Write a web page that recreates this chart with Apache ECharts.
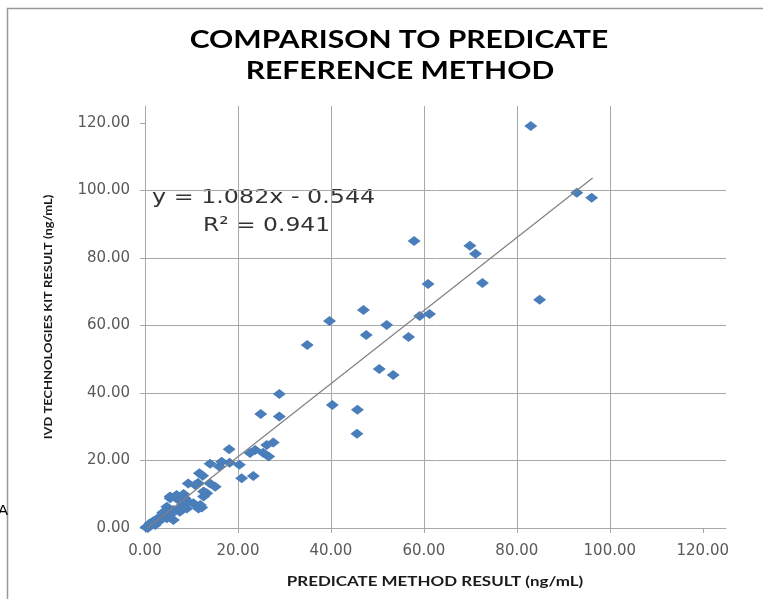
<!DOCTYPE html>
<html>
<head>
<meta charset="utf-8">
<script src="https://cdn.jsdelivr.net/npm/echarts@6/dist/echarts.min.js"></script>
<style>html,body{margin:0;padding:0;background:#fff}#c{width:763px;height:599px}</style>
</head>
<body>
<div id="c"></div>
<script>
// Predicate method result (x) vs IVD kit result (y), ng/mL
const pointsX = [
  83.0, 92.9, 96.1, 84.9, 57.9, 69.9, 71.1, 72.6, 60.9, 59.1, 61.2, 52.0, 47.0, 47.6, 56.7,
  39.7, 34.9, 50.4, 53.4, 40.3, 45.7, 45.6, 28.9, 28.9, 24.9,
  18.1, 27.6, 26.2, 23.7, 22.6, 26.6, 25.4, 16.5, 18.2, 20.3, 16.0, 14.0,
  20.8, 23.3, 11.7, 12.4, 9.3, 14.0, 15.1, 12.6, 13.3,
  5.4, 7.2, 8.6, 10.4, 11.5, 12.2, 4.7, 6.1, 7.5, 8.0, 9.0,
  3.2, 4.7, 6.1, 5.5, 3.8, 1.1, 2.2, 0.2, 0.6, 1.8, 2.8, 3.5,
  5.4, 6.8, 8.3, 9.3, 7.9, 9.0, 4.3, 11.4, 10.8, 12.6, 11.9
];
const pointsY = [
  119.1, 99.3, 97.8, 67.6, 85.0, 83.6, 81.2, 72.6, 72.3, 62.8, 63.4, 60.1, 64.6, 57.2, 56.6,
  61.3, 54.2, 47.1, 45.3, 36.4, 35.0, 27.9, 39.7, 33.0, 33.8,
  23.3, 25.3, 24.6, 23.1, 22.2, 21.2, 22.3, 19.6, 19.3, 18.7, 18.2, 19.0,
  14.7, 15.4, 16.2, 15.5, 13.2, 13.2, 12.2, 10.8, 10.3,
  8.8, 8.3, 8.8, 7.3, 5.8, 6.1, 6.3, 5.3, 4.8, 6.0, 7.5,
  3.3, 2.9, 2.4, 4.0, 4.5, 1.4, 0.9, 0.2, 0.0, 2.0, 1.8, 2.6,
  9.3, 9.8, 10.1, 7.8, 6.3, 5.8, 4.4, 13.3, 12.7, 9.3, 6.8
];
// Linear trendline endpoints as drawn
const trendX = [0.5, 96.3];
const trendY = [0.0, 103.7];
const tickValues = [0, 20, 40, 60, 80, 100, 120];
const titleLines = ['COMPARISON TO PREDICATE', 'REFERENCE METHOD'];
const equationLines = ['y = 1.082x - 0.544', 'R\u00B2 = 0.941'];
const xName = 'PREDICATE METHOD RESULT (ng/mL)';
const yName = 'IVD TECHNOLOGIES KIT RESULT (ng/mL)';

const scatterData = pointsX.map((x, i) => [x, pointsY[i]]);
const trendData = trendX.map((x, i) => [x, trendY[i]]);

const gridColor = '#a8a8a8';
const labelFmt = v => (tickValues.indexOf(v) >= 0 ? v.toFixed(2) : '');
function axisCommon(margin) {
  return {
    type: 'value', min: 0, max: 125, interval: 20,
    axisLine: { show: true, lineStyle: { color: gridColor, width: 1 } },
    axisTick: { show: true, length: 5, inside: false, customValues: tickValues, lineStyle: { color: gridColor } },
    splitLine: { show: true, showMaxLine: false, lineStyle: { color: gridColor, width: 1 } },
    axisLabel: { customValues: tickValues, formatter: labelFmt, color: '#595959', fontFamily: 'DejaVu Sans', fontSize: 15, margin: margin }
  };
}

const chart = echarts.init(document.getElementById('c'), null, { renderer: 'canvas' });
chart.setOption({
  backgroundColor: '#ffffff',
  animation: false,
  grid: { left: 145, right: 37, top: 106, bottom: 71, containLabel: false },
  xAxis: axisCommon(16),
  yAxis: axisCommon(15),
  graphic: [
    { type: 'rect', shape: { x: 7.5, y: 8.5, width: 900, height: 800 }, style: { fill: 'none', stroke: '#999999', lineWidth: 1.5 }, z: -1 },
    { type: 'text', x: 399, y: 40, scaleX: 1.25, style: { text: titleLines[0], fill: '#000', font: 'bold 24px Lato', align: 'center', verticalAlign: 'middle' } },
    { type: 'text', x: 400, y: 71, scaleX: 1.25, style: { text: titleLines[1], fill: '#000', font: 'bold 24px Lato', align: 'center', verticalAlign: 'middle' } },
    { type: 'text', x: 152, y: 198, scaleX: 1.19, style: { text: equationLines[0], fill: '#333', font: '20px "DejaVu Sans"', align: 'left', verticalAlign: 'middle' } },
    { type: 'text', x: 203, y: 226, scaleX: 1.17, style: { text: equationLines[1], fill: '#333', font: '20px "DejaVu Sans"', align: 'left', verticalAlign: 'middle' } },
    { type: 'text', x: 435, y: 581, scaleX: 1.21, style: { text: xName, fill: '#1a1a1a', font: 'bold 14px Lato', align: 'center', verticalAlign: 'middle' } },
    { type: 'text', x: 48, y: 317, rotation: Math.PI / 2, scaleX: 1.08, style: { text: yName, fill: '#1a1a1a', font: 'bold 12px Lato', align: 'center', verticalAlign: 'middle' } },
    { type: 'text', x: -2, y: 511, style: { text: 'A', fill: '#000', font: '15px "Liberation Sans"', align: 'left', verticalAlign: 'middle' } }
  ],
  series: [
    {
      type: 'line', data: trendData, symbol: 'none', silent: true,
      lineStyle: { color: '#808080', width: 1.2 }, z: 3
    },
    {
      type: 'scatter', data: scatterData, symbol: 'diamond', symbolSize: [13, 10],
      itemStyle: { color: '#4a7ebb', opacity: 1 }, z: 2
    }
  ]
});
</script>
</body>
</html>
